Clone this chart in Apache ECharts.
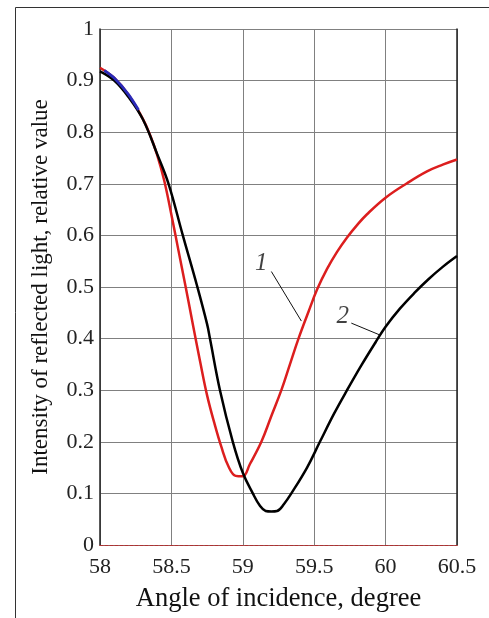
<!DOCTYPE html>
<html>
<head>
<meta charset="utf-8">
<script src="https://cdn.jsdelivr.net/npm/echarts@6/dist/echarts.min.js"></script>
<style>
html,body{margin:0;padding:0;background:#fff;}
#chart{width:489px;height:618px;}
</style>
</head>
<body>
<div id="chart"></div>
<script>
// Curve 1 (red)
const angle1 = [58.00,58.10,58.20,58.30,58.35,58.40,58.45,58.50,58.55,58.60,58.65,58.70,58.75,58.80,58.85,58.90,58.95,59.00,59.05,59.13,59.20,59.27,59.33,59.39,59.46,59.52,59.59,59.66,59.73,59.80,59.87,60.00,60.15,60.29,60.40,60.50];
const curve1 = [0.925,0.905,0.872,0.826,0.795,0.756,0.706,0.640,0.570,0.500,0.428,0.357,0.290,0.237,0.190,0.152,0.134,0.133,0.157,0.200,0.250,0.300,0.350,0.400,0.452,0.495,0.535,0.568,0.596,0.620,0.641,0.673,0.701,0.724,0.737,0.747];
// Curve 2 (black)
const angle2 = [58.00,58.10,58.20,58.30,58.40,58.48,58.58,58.68,58.75,58.77,58.84,58.93,59.00,59.07,59.12,59.16,59.20,59.24,59.29,59.34,59.45,59.54,59.64,59.73,59.83,59.93,60.00,60.10,60.20,60.30,60.40,60.50];
const curve2 = [0.918,0.900,0.868,0.825,0.758,0.700,0.600,0.502,0.428,0.400,0.300,0.200,0.140,0.100,0.076,0.066,0.065,0.066,0.080,0.100,0.150,0.200,0.255,0.300,0.348,0.393,0.423,0.458,0.488,0.515,0.539,0.560];
// Blue fragment near the start
const angle3 = [58.03,58.10,58.20,58.27];
const curve3 = [0.920,0.905,0.873,0.843];
// Tick labels
const xTicks = ['58','58.5','59','59.5','60','60.5'];
const yTicks = ['0','0.1','0.2','0.3','0.4','0.5','0.6','0.7','0.8','0.9','1'];
// Curve labels: [text, textX, textY, leaderStartX, leaderStartY, leaderEndX, leaderEndY]
const curveLabels = [
  ['1', 59.13, 0.545, 59.20, 0.530, 59.41, 0.434],
  ['2', 59.70, 0.443, 59.76, 0.430, 59.96, 0.407]
];

const pair = (xs, ys) => xs.map((x, i) => [x, ys[i]]);
const serif = '"Liberation Serif","Times New Roman",serif';

const chart = echarts.init(document.getElementById('chart'), null, {renderer: 'canvas'});
const option = {
  backgroundColor: '#fff',
  animation: false,
  grid: {left: 100, right: 32, top: 29, bottom: 66, containLabel: false},
  xAxis: [{
    type: 'value', min: 58, max: 60.5, interval: 0.5,
    name: 'Angle of incidence, degree', nameLocation: 'middle', nameGap: 41,
    nameTextStyle: {fontFamily: serif, fontSize: 26.5, color: '#111'},
    axisLine: {show: true, lineStyle: {color: '#b03030', width: 1, type: [3, 2]}},
    axisTick: {show: false},
    axisLabel: {fontFamily: serif, fontSize: 22, color: '#222', margin: 11,
      formatter: v => xTicks[Math.round((v - 58) / 0.5)]},
    splitLine: {show: true, lineStyle: {color: '#808080', width: 1}}
  }, {
    type: 'value', min: 58, max: 60.5, position: 'top',
    axisLine: {show: true, lineStyle: {color: '#b03030', width: 1, type: [3, 2]}},
    axisTick: {show: false}, axisLabel: {show: false}, splitLine: {show: false}
  }],
  yAxis: [{
    type: 'value', min: 0, max: 1, interval: 0.1,
    name: 'Intensity of reflected light, relative value', nameLocation: 'middle', nameGap: 48,
    nameTextStyle: {fontFamily: serif, fontSize: 23, color: '#111'},
    axisLine: {show: true, lineStyle: {color: '#222', width: 1.5}},
    axisTick: {show: false},
    axisLabel: {fontFamily: serif, fontSize: 22, color: '#222', margin: 6,
      formatter: v => yTicks[Math.round(v * 10)]},
    splitLine: {show: true, lineStyle: {color: '#808080', width: 1}}
  }, {
    type: 'value', min: 0, max: 1, position: 'right',
    axisLine: {show: true, lineStyle: {color: '#222', width: 1.5}},
    axisTick: {show: false}, axisLabel: {show: false}, splitLine: {show: false}
  }],
  series: [
    {type: 'line', name: '1', data: pair(angle1, curve1), smooth: 0.4, symbol: 'none',
      lineStyle: {color: '#dc1e1e', width: 2.5}, z: 3},
    {type: 'line', name: '2', data: pair(angle2, curve2), smooth: 0.4, symbol: 'none',
      lineStyle: {color: '#000', width: 2.5}, z: 4},
    {type: 'line', name: 'b', data: pair(angle3, curve3), smooth: 0.3, symbol: 'none',
      lineStyle: {color: '#2a2ab8', width: 2.8}, z: 5},
    ...curveLabels.map(l => ({
      type: 'line', data: [[l[3], l[4]], [l[5], l[6]]], symbol: 'none',
      lineStyle: {color: '#111', width: 1}, z: 6
    })),
    {type: 'scatter', data: curveLabels.map(l => [l[1], l[2], l[0]]), symbolSize: 0, z: 7,
      label: {show: true, position: 'inside', formatter: p => p.data[2],
        fontFamily: serif, fontStyle: 'italic', fontSize: 25, color: '#111'}}
  ],
  graphic: [
    {type: 'line', shape: {x1: 15.5, y1: 7.5, x2: 489, y2: 7.5}, style: {stroke: '#333', lineWidth: 1}},
    {type: 'line', shape: {x1: 15.5, y1: 7.5, x2: 15.5, y2: 618}, style: {stroke: '#333', lineWidth: 1}}
  ]
};
chart.setOption(option);
</script>
</body>
</html>
